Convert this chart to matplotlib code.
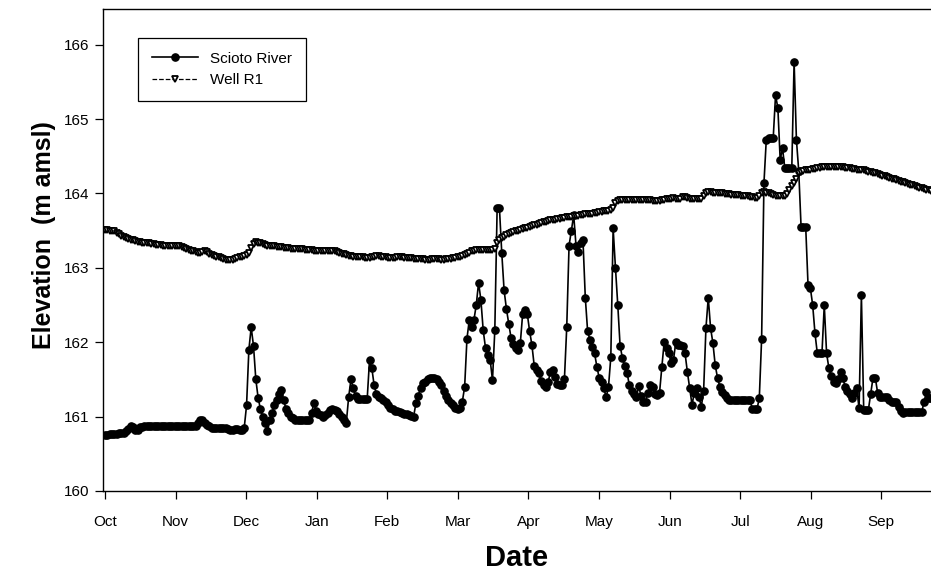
import matplotlib.pyplot as plt
import numpy as np

plt.rcParams['font.family'] = ['Liberation Sans', 'DejaVu Sans']

# daily values, day 0 = 1 October
scioto_river = [
    160.75, 160.75, 160.77, 160.77, 160.77, 160.77, 160.78, 160.78, 160.78, 160.80,
    160.84, 160.88, 160.86, 160.82, 160.82, 160.86, 160.86, 160.87, 160.87, 160.87,
    160.87, 160.87, 160.87, 160.87, 160.87, 160.87, 160.87, 160.87, 160.87, 160.87,
    160.87, 160.87, 160.87, 160.87, 160.87, 160.87, 160.87, 160.87, 160.87, 160.88,
    160.92, 160.96, 160.95, 160.92, 160.89, 160.87, 160.85, 160.85, 160.85, 160.85,
    160.85, 160.85, 160.85, 160.83, 160.82, 160.82, 160.84, 160.83, 160.82, 160.82,
    160.85, 161.15, 161.90, 162.20, 161.95, 161.50, 161.25, 161.10, 161.00, 160.92,
    160.80, 160.95, 161.05, 161.15, 161.22, 161.30, 161.36, 161.22, 161.10, 161.05,
    161.00, 160.98, 160.96, 160.95, 160.95, 160.95, 160.95, 160.95, 160.95, 161.05,
    161.18, 161.08, 161.03, 161.02, 161.00, 161.02, 161.05, 161.09, 161.10, 161.09,
    161.07, 161.04, 161.00, 160.95, 160.92, 161.26, 161.50, 161.38, 161.28, 161.24,
    161.24, 161.24, 161.24, 161.24, 161.76, 161.65, 161.42, 161.30, 161.27, 161.25,
    161.22, 161.20, 161.15, 161.12, 161.10, 161.08, 161.07, 161.06, 161.05, 161.04,
    161.03, 161.02, 161.01, 161.00, 161.18, 161.28, 161.38, 161.45, 161.46, 161.50,
    161.52, 161.52, 161.52, 161.50, 161.47, 161.42, 161.35, 161.28, 161.22, 161.18,
    161.15, 161.12, 161.10, 161.12, 161.20, 161.40, 162.05, 162.30, 162.20, 162.30,
    162.50, 162.80, 162.57, 162.16, 161.92, 161.83, 161.76, 161.49, 162.16, 163.80,
    163.80, 163.20, 162.70, 162.45, 162.25, 162.06, 161.98, 161.92, 161.90, 161.99,
    162.38, 162.43, 162.38, 162.15, 161.96, 161.68, 161.62, 161.58, 161.48, 161.43,
    161.40, 161.47, 161.60, 161.62, 161.53, 161.44, 161.42, 161.42, 161.50, 162.20,
    163.30, 163.50, 163.71, 163.30, 163.21, 163.33, 163.37, 162.60, 162.15, 162.03,
    161.94, 161.85, 161.67, 161.52, 161.46, 161.38, 161.26, 161.40, 161.80, 163.53,
    163.00, 162.50, 161.95, 161.79, 161.68, 161.59, 161.42, 161.35, 161.30, 161.26,
    161.41, 161.28, 161.20, 161.20, 161.32, 161.42, 161.40, 161.30, 161.29, 161.32,
    161.67, 162.00, 161.92, 161.86, 161.72, 161.76, 162.00, 161.96, 161.96, 161.95,
    161.85, 161.60, 161.38, 161.16, 161.32, 161.38, 161.27, 161.13, 161.35, 162.19,
    162.60, 162.19, 161.99, 161.69, 161.52, 161.40, 161.33, 161.29, 161.25, 161.22,
    161.22, 161.22, 161.22, 161.22, 161.22, 161.22, 161.22, 161.22, 161.22, 161.10,
    161.10, 161.10, 161.25, 162.05, 164.14, 164.72, 164.74, 164.74, 164.75, 165.32,
    165.15, 164.45, 164.61, 164.34, 164.34, 164.34, 164.34, 165.77, 164.72, 164.30,
    163.55, 163.55, 163.55, 162.77, 162.73, 162.50, 162.12, 161.85, 161.85, 161.85,
    162.50, 161.85, 161.65, 161.55, 161.47, 161.45, 161.50, 161.60, 161.52, 161.40,
    161.35, 161.30, 161.25, 161.32, 161.38, 161.11, 162.63, 161.09, 161.09, 161.09,
    161.30, 161.52, 161.52, 161.32, 161.26, 161.26, 161.26, 161.26, 161.22, 161.20,
    161.20, 161.20, 161.13, 161.08, 161.05, 161.06, 161.06, 161.06, 161.06, 161.06,
    161.06, 161.06, 161.06, 161.20, 161.33, 161.25, 161.25,
]

well_r1 = [
    163.51, 163.51, 163.50, 163.50, 163.49, 163.47, 163.45, 163.43, 163.41, 163.40,
    163.39, 163.38, 163.37, 163.36, 163.35, 163.35, 163.34, 163.34, 163.33, 163.33,
    163.32, 163.32, 163.31, 163.31, 163.31, 163.30, 163.30, 163.30, 163.30, 163.30,
    163.29, 163.29, 163.29, 163.28, 163.27, 163.25, 163.24, 163.23, 163.22, 163.21,
    163.20, 163.20, 163.21, 163.22, 163.21, 163.19, 163.17, 163.16, 163.15, 163.14,
    163.13, 163.12, 163.11, 163.10, 163.10, 163.10, 163.12, 163.13, 163.14, 163.15,
    163.16, 163.17, 163.20, 163.27, 163.32, 163.35, 163.34, 163.33, 163.32, 163.31,
    163.30, 163.30, 163.29, 163.29, 163.28, 163.28, 163.28, 163.27, 163.27, 163.27,
    163.26, 163.26, 163.26, 163.25, 163.25, 163.25, 163.24, 163.24, 163.24, 163.24,
    163.23, 163.23, 163.23, 163.23, 163.23, 163.23, 163.23, 163.22, 163.22, 163.22,
    163.21, 163.20, 163.19, 163.18, 163.17, 163.16, 163.16, 163.15, 163.15, 163.14,
    163.14, 163.14, 163.13, 163.13, 163.13, 163.14, 163.15, 163.16, 163.16, 163.15,
    163.14, 163.14, 163.13, 163.13, 163.13, 163.13, 163.14, 163.14, 163.14, 163.13,
    163.13, 163.13, 163.13, 163.12, 163.12, 163.12, 163.12, 163.12, 163.11, 163.11,
    163.11, 163.12, 163.12, 163.12, 163.12, 163.11, 163.11, 163.12, 163.12, 163.12,
    163.13, 163.13, 163.14, 163.15, 163.16, 163.17, 163.18, 163.20, 163.22, 163.23,
    163.24, 163.24, 163.24, 163.24, 163.24, 163.24, 163.24, 163.24, 163.25, 163.33,
    163.37, 163.40, 163.42, 163.44, 163.46, 163.47, 163.48, 163.49, 163.50, 163.51,
    163.52, 163.53, 163.54, 163.55, 163.56, 163.57, 163.58, 163.59, 163.60, 163.61,
    163.62, 163.63, 163.64, 163.64, 163.65, 163.66, 163.66, 163.67, 163.67, 163.68,
    163.68, 163.69, 163.70, 163.70, 163.70, 163.71, 163.71, 163.72, 163.72, 163.73,
    163.73, 163.74, 163.74, 163.75, 163.75, 163.76, 163.76, 163.77, 163.78, 163.80,
    163.87, 163.90, 163.91, 163.91, 163.91, 163.91, 163.91, 163.91, 163.91, 163.91,
    163.91, 163.91, 163.91, 163.91, 163.91, 163.91, 163.90, 163.90, 163.90, 163.90,
    163.91, 163.91, 163.92, 163.92, 163.93, 163.94, 163.93, 163.92, 163.93, 163.95,
    163.95, 163.94, 163.93, 163.93, 163.92, 163.92, 163.92, 163.93, 163.96, 164.00,
    164.02, 164.02, 164.01, 164.01, 164.00, 164.00, 164.00, 163.99, 163.99, 163.99,
    163.98, 163.98, 163.98, 163.98, 163.97, 163.97, 163.96, 163.96, 163.95, 163.95,
    163.94, 163.94, 163.96, 164.00, 164.02, 164.01, 164.00, 163.99, 163.98, 163.97,
    163.96, 163.96, 163.96, 163.97, 163.99, 164.05, 164.10, 164.14, 164.20, 164.27,
    164.29, 164.30, 164.31, 164.32, 164.32, 164.33, 164.33, 164.34, 164.34, 164.35,
    164.35, 164.35, 164.35, 164.35, 164.35, 164.35, 164.35, 164.35, 164.35, 164.34,
    164.34, 164.34, 164.33, 164.33, 164.32, 164.32, 164.31, 164.31, 164.30, 164.29,
    164.29, 164.28, 164.27, 164.26, 164.25, 164.24, 164.23, 164.22, 164.21, 164.20,
    164.19, 164.18, 164.17, 164.16, 164.15, 164.14, 164.13, 164.12, 164.11, 164.10,
    164.09, 164.08, 164.07, 164.06, 164.05, 164.04, 164.03,
]

months = ['Oct', 'Nov', 'Dec', 'Jan', 'Feb', 'Mar', 'Apr', 'May', 'Jun', 'Jul', 'Aug', 'Sep']

days = np.arange(len(scioto_river))

fig = plt.figure(figsize=(9.31, 5.76), dpi=100)
ax = fig.add_axes([102.7 / 931, 85 / 576, (931 - 102.7) / 931, 482 / 576])

ax.plot(days, scioto_river, '-', color='black', lw=1.2, marker='o', markersize=5.2,
        markerfacecolor='black', markeredgecolor='black', label='Scioto River')
ax.plot(days, well_r1, '--', color='black', lw=0.9, marker='v', markersize=5.0,
        markerfacecolor='white', markeredgecolor='black', markeredgewidth=1.3,
        label='Well R1')

ax.set_xlim(-1, 356)
ax.set_ylim(160, 166.48)
ax.set_yticks(range(160, 167))
ax.set_xticks([i * 365 / 12 for i in range(len(months))])
ax.set_xticklabels(months)
ax.tick_params(axis='both', direction='out', length=6, width=0.9, labelsize=11, colors='black')
ax.tick_params(axis='x', pad=11)

for s in ['left', 'bottom', 'top']:
    ax.spines[s].set_linewidth(1.0)
ax.spines['right'].set_visible(False)

ax.set_ylabel('Elevation  (m amsl)', fontsize=18, fontweight='bold')
ax.yaxis.set_label_coords(-0.056, 0.53)
ax.set_xlabel('Date', fontsize=21, fontweight='bold', labelpad=11)

leg = ax.legend(loc='upper left', bbox_to_anchor=(0.0426, 0.94), borderaxespad=0,
                fontsize=11, handlelength=3.0, fancybox=False, framealpha=1,
                edgecolor='black', borderpad=0.9, labelspacing=0.5)
leg.get_frame().set_linewidth(0.9)

fig.savefig('out.png', dpi=100)
